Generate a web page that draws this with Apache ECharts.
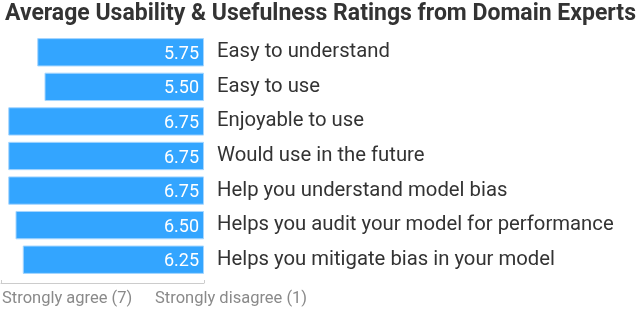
<!DOCTYPE html>
<html>
<head>
<meta charset="utf-8">
<script src="https://cdn.jsdelivr.net/npm/echarts@6/dist/echarts.min.js"></script>
<style>
html,body{margin:0;padding:0;background:#fff;}
#chart{width:640px;height:313px;}
</style>
</head>
<body>
<div id="chart"></div>
<script>
var titleText = 'Average Usability & Usefulness Ratings from Domain Experts';
var categories = [
  'Easy to understand',
  'Easy to use',
  'Enjoyable to use',
  'Would use in the future',
  'Help you understand model bias',
  'Helps you audit your model for performance',
  'Helps you mitigate bias in your model'
];
var ratings = [5.75, 5.50, 6.75, 6.75, 6.75, 6.50, 6.25];
var axisEndLabels = ['Strongly agree (7)', 'Strongly disagree (1)'];
var axisMin = 0, axisMax = 7;

var chart = echarts.init(document.getElementById('chart'), null, {renderer: 'canvas'});
chart.setOption({
  animation: false,
  backgroundColor: '#ffffff',
  title: {
    text: titleText,
    left: 5,
    top: 3,
    padding: 0,
    textStyle: {fontFamily: 'Roboto', fontWeight: 'bold', fontSize: 23, color: '#333333'}
  },
  grid: {left: 1, right: 436, top: 35, bottom: 36, containLabel: false},
  xAxis: {
    type: 'value',
    min: axisMin,
    max: axisMax,
    interval: 7,
    inverse: true,
    offset: 6,
    axisLine: {show: true, lineStyle: {color: '#cccccc', width: 1}},
    axisTick: {show: true, inside: true, length: 3, lineStyle: {color: '#cccccc'}},
    axisLabel: {show: false},
    splitLine: {show: false}
  },
  yAxis: {
    type: 'category',
    data: categories,
    inverse: true,
    position: 'right',
    axisLine: {show: false},
    axisTick: {show: false},
    axisLabel: {
      margin: 13,
      align: 'left',
      padding: [5, 0, 0, 0],
      fontFamily: 'Roboto',
      fontSize: 20.3,
      color: '#333333'
    }
  },
  graphic: [
    {type: 'text', left: 2, top: 290, style: {text: axisEndLabels[0], font: '16.5px Roboto', fill: '#8a8a8a'}},
    {type: 'text', left: 155, top: 290, style: {text: axisEndLabels[1], font: '16.5px Roboto', fill: '#8a8a8a'}}
  ],
  series: [{
    type: 'bar',
    data: ratings,
    barCategoryGap: '18%',
    itemStyle: {color: '#33a5ff', borderColor: '#a6d6ff', borderWidth: 1},
    label: {
      show: true,
      position: 'insideRight',
      distance: 5,
      offset: [0, 2],
      fontFamily: 'Roboto',
      fontSize: 18,
      color: '#ffffff',
      formatter: function (p) { return p.value.toFixed(2); }
    }
  }]
});
</script>
</body>
</html>
